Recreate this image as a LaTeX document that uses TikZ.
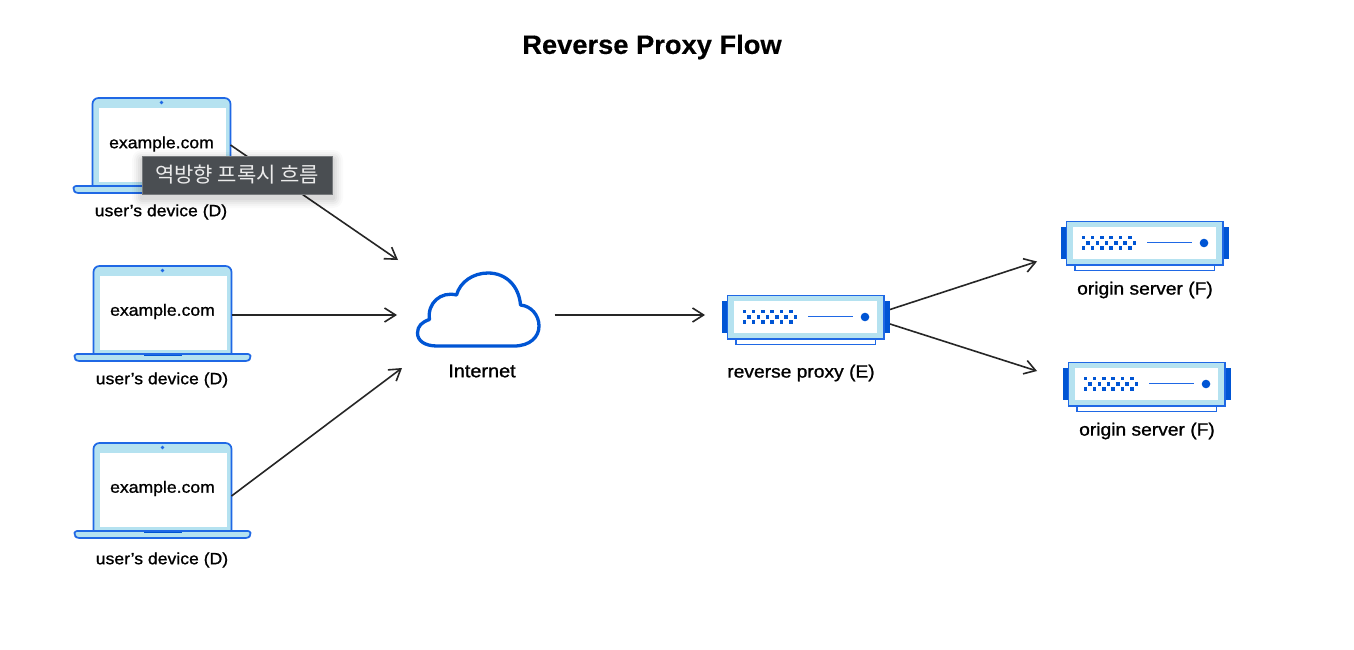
\documentclass[tikz,border=0pt]{standalone}
\usepackage{fontspec}
\setmainfont{Liberation Sans}
\newfontfamily\krfont{Noto Sans CJK KR}
\newfontfamily\medfont[FakeBold=1.1,FakeStretch=1.08]{Liberation Sans}
\newfontfamily\titlefont[FakeStretch=1.03,FakeBold=0.4]{Liberation Sans Bold}
\definecolor{edgeblue}{HTML}{1F68E5}
\definecolor{deepblue}{HTML}{0055D4}
\definecolor{paleblue}{HTML}{B5E2F0}
\definecolor{inkline}{HTML}{262626}
\usetikzlibrary{arrows.meta}
\tikzset{
  x=1pt,y=-1pt,
  caption/.style={font=\medfont\fontsize{16.3}{18}\selectfont,text=black,inner sep=0pt},
  bigcaption/.style={font=\medfont\fontsize{17.8}{20}\selectfont,text=black,inner sep=0pt},
  screentext/.style={font=\medfont\fontsize{16.3}{18}\selectfont,text=black,inner sep=0pt},
  flow/.style={draw=inkline,line width=1.6pt,-{Straight Barb[length=11pt,width=14pt,line width=1.6pt]}},
  blueline/.style={draw=edgeblue,line width=1.7pt},
}
\newcommand{\drawlaptop}[6]{%
 \begin{scope}[shift={(#2,#3)}]
  \draw[blueline,fill=paleblue,line join=round,rounded corners=2.5pt] (-19,88) -- (157,88) -- (157,92) -- (155,95) -- (-17,95) -- (-19,92) -- cycle;
  \fill[deepblue] (50,88) rectangle (88,90);
  \draw[blueline,fill=paleblue] (0,88) -- (0,8) [rounded corners=6pt] -- (0,0) -- (138,0) [sharp corners] -- (138,88) -- cycle;
  \fill[white] (6,10) rectangle (133,84);
  \fill[edgeblue] (69,4.5) circle (1.8);
  \node[screentext] (#1) at (69,#4) {example.com};
  \node[caption] (#1cap) at (68.5,#5) {user’s device (D)};
  \coordinate (#1port) at (138,#6);
 \end{scope}}
\newcommand{\drawserver}[6]{%
 \begin{scope}[shift={(#2,#3)}]
  \draw[blueline,fill=white] (736,339) rectangle (875.5,344.5);
  \fill[deepblue] (721.5,301) rectangle (727.5,333);
  \fill[deepblue] (884,301) rectangle (890,333);
  \draw[blueline,fill=paleblue] (727.5,295.5) rectangle (884,339);
  \fill[white] (734,301) rectangle (876.5,332.5);
  \foreach \i in {0,...,5}{
    \fill[deepblue] ({742.5+\i*9.3},309.7) rectangle +(3.6,3.6);
    \fill[deepblue] ({747.2+\i*9.3},315) rectangle +(3.6,3.6);
    \fill[deepblue] ({742.5+\i*9.3},320.2) rectangle +(3.6,3.6);}
  \draw[edgeblue,line width=1.5pt] (808,316.7) -- (853,316.7);
  \fill[deepblue] (865,317) circle (4.3);
  \node[bigcaption] (#1) at (#5,#6) {#4};
  \coordinate (#1upper) at (890,309.5);
  \coordinate (#1lower) at (890,324);
 \end{scope}}
\begin{document}
\begin{tikzpicture}
\useasboundingbox (0,0) rectangle (1354,650);
\fill[white] (0,0) rectangle (1354,650);
\node[font=\titlefont\fontsize{26.5}{30}\selectfont,inner sep=0pt] (title) at (652,47) {Reverse Proxy Flow};
\drawlaptop{lapa}{92.5}{98}{46}{114}{47}
\drawlaptop{lapb}{93.5}{266}{45.5}{114}{49}
\drawlaptop{lapc}{93.5}{443}{45.5}{117}{53}
% cloud
\draw[draw=deepblue,line width=3.3pt,fill=white,line join=round]
  (437,346) -- (514,346)
  .. controls (530,346) and (539,337) .. (539,326)
  .. controls (539,315) and (531,306) .. (520.5,305)
  .. controls (519,286) and (506,273) .. (488,273)
  .. controls (473,273) and (460,282) .. (456.5,295)
  .. controls (441,291) and (427,303) .. (429.5,319.5)
  .. controls (422,322) and (417.5,326) .. (417.5,333)
  .. controls (417.5,341) and (425,346) .. (437,346) -- cycle;
\node[bigcaption,font=\medfont\fontsize{18.4}{20}\selectfont] (net) at (482,371) {Internet};
\coordinate (cloudin) at (398,260);
\coordinate (cloudmid) at (397,315);
\coordinate (cloudlow) at (402,368);
\coordinate (cloudout) at (554.5,315);
\coordinate (proxyarr) at (705,315);
\drawserver{proxy}{0}{0}{reverse proxy (E)}{801}{373}
\drawserver{orga}{339}{-74}{origin server (F)}{806}{364}
\drawserver{orgb}{341}{67}{origin server (F)}{806}{364}
\draw[flow] (lapaport) -- (cloudin);
\draw[flow] (lapbport) -- (cloudmid);
\draw[flow] (lapcport) -- (cloudlow);
\draw[flow] (cloudout) -- (proxyarr);
\coordinate (orgaarr) at (1037,261.5);
\coordinate (orgbarr) at (1037,371);
\draw[flow] (proxyupper) -- (orgaarr);
\draw[flow] (proxylower) -- (orgbarr);
% tooltip
\foreach \g/\o in {10/0.02,8/0.025,6/0.03,4/0.035,2/0.04}{\fill[black,opacity=\o,rounded corners=\g pt] (142-\g,156-\g+4) rectangle (333+\g,194+\g+4);}
\node[draw={rgb,255:red,118;green,121;blue,124},line width=1pt,fill={rgb,255:red,74;green,78;blue,82},text={rgb,255:red,235;green,235;blue,235},font=\krfont\fontsize{21}{24}\selectfont,minimum width=190pt,minimum height=38pt,inner sep=0pt] (tip) at (237.3,175) {역방향 프록시 흐름};
\end{tikzpicture}
\end{document}
